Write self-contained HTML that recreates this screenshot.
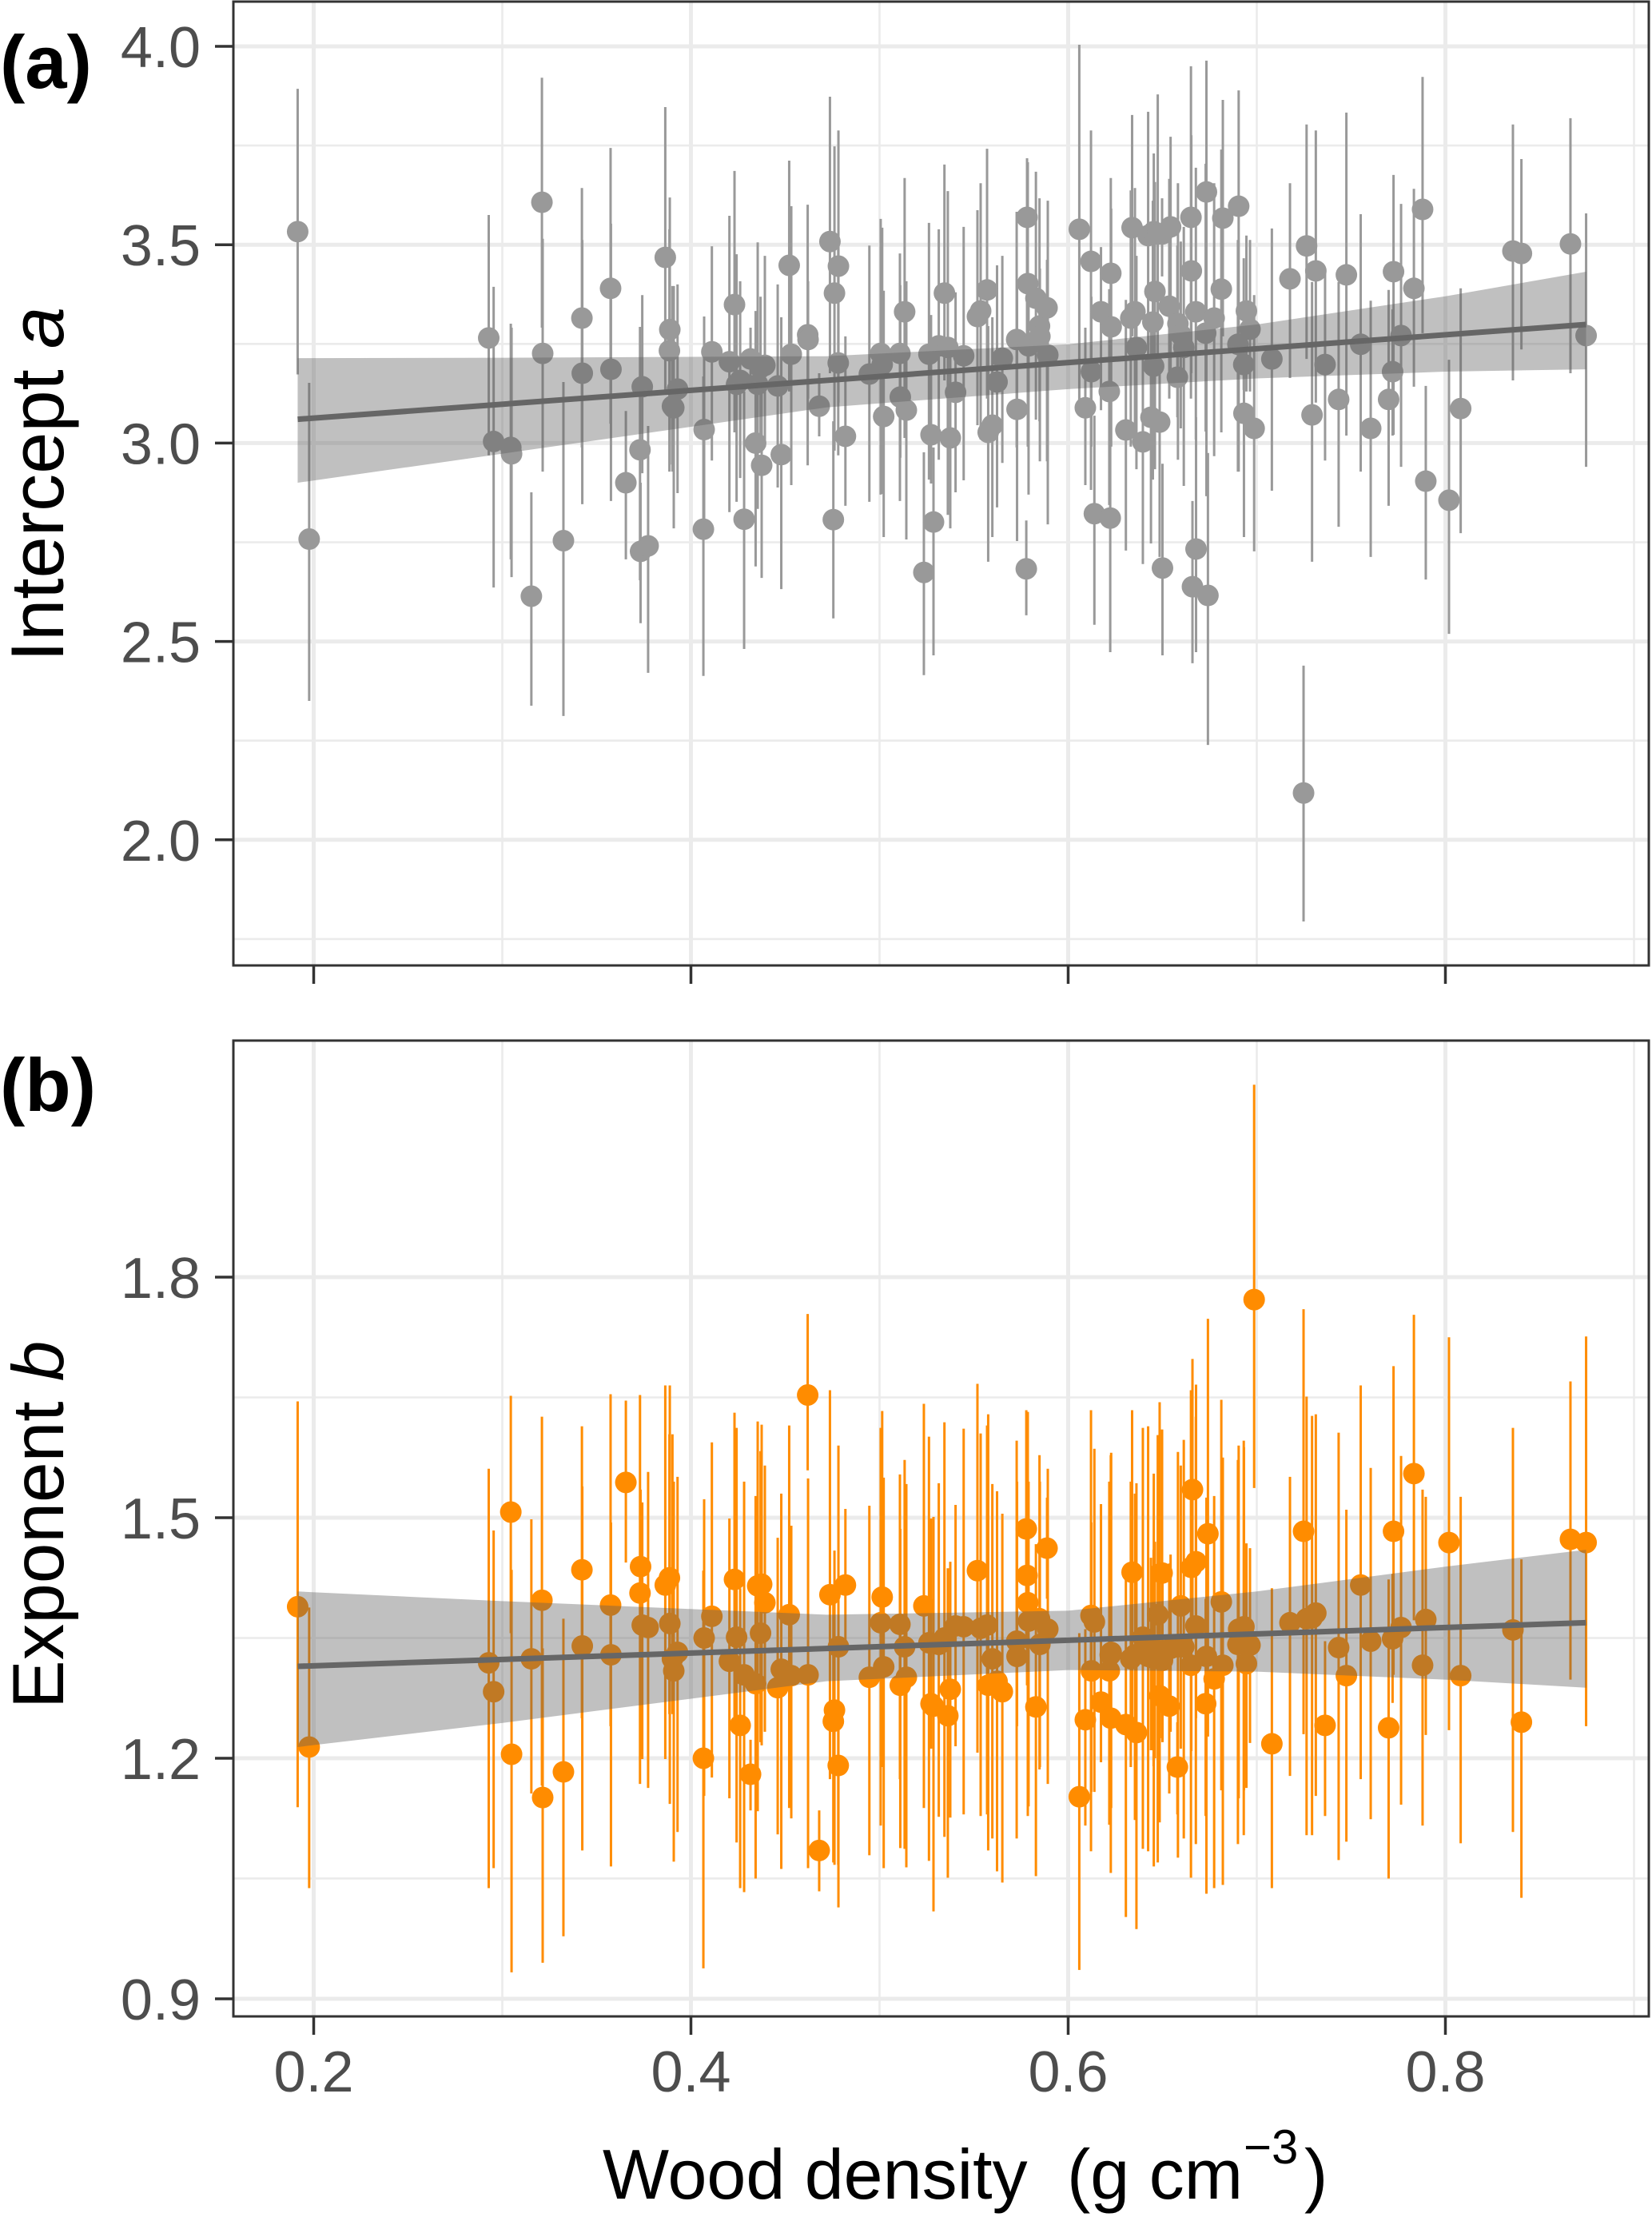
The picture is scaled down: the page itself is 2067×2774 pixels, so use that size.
<!DOCTYPE html>
<html lang="en">
<head>
<meta charset="utf-8">
<title>Wood density vs intercept and exponent</title>
<style>
html,body{margin:0;padding:0;background:#fff;}
svg{display:block;font-family:"Liberation Sans",Arial,sans-serif;}
</style>
</head>
<body>
<svg id="chart" xmlns="http://www.w3.org/2000/svg" width="2067" height="2774" viewBox="0 0 2067 2774">
  <rect x="0" y="0" width="2067" height="2774" fill="#ffffff"/>
  <g id="panelA"></g>
  <g id="panelB"></g>
  <text x="0" y="110" font-size="94" font-weight="bold" fill="#000">(a)</text>
  <text x="0" y="1390" font-size="94" font-weight="bold" fill="#000">(b)</text>
  <text transform="translate(79,828) rotate(-90)" font-size="94" fill="#000">Intercept <tspan font-style="italic">a</tspan></text>
  <text transform="translate(79,2138) rotate(-90)" font-size="91" fill="#000">Exponent <tspan font-style="italic">b</tspan></text>
  <g>
    <text x="754" y="2751" font-size="88" fill="#000">Wood density</text>
    <text x="1335" y="2751" font-size="88" fill="#000">(g cm</text>
    <text x="1556" y="2707" font-size="60" fill="#000">−3</text>
    <text x="1632" y="2751" font-size="88" fill="#000">)</text>
  </g>
</svg>
<script>
const xValues = [
.1915,.1976,.2928,.2954,.3045,.3049,.3154,.3210,.3214,.3324,
.3422,.3424,.3574,.3576,.3655,.3742,.3730,.3733,.3773,.3864,
.3888,.3886,.3929,.3902,.3909,.4070,.4066,.4111,.4204,.4231,
.4242,.4261,.4282,.4316,.4343,.4354,.4375,.4369,.4392,.4460,
.4479,.4521,.4532,.4619,.4621,.4680,.4737,.4782,.4761,.4781,
.4819,.4755,.4946,.5006,.5014,.5022,.5108,.5110,.5133,.5142,
.5235,.5262,.5273,.5286,.5314,.5344,.5362,.5375,.5403,.5446,
.5519,.5536,.5570,.5576,.5598,.5623,.5651,.5727,.5729,.5778,
.5782,.5786,.5790,.5829,.5848,.5850,.5888,.5892,.6059,.6091,
.6121,.6123,.6139,.6174,.6226,.6228,.6218,.6223,.6306,.6339,
.6354,.6332,.6362,.6396,.6424,.6454,.6498,.6475,.6543,.6651,
.6653,.6733,.6820,.6904,.6812,.6460,.6536,.6449,.6677,.6774,
.6945,.6582,.6597,.6729,.6964,.6900,.6613,.6931,.7080,.6453,
.6579,.6485,.6439,.6932,.6986,.6678,.6500,.6659,.6741,.7264,
.7176,.7313,.7475,.7293,.7362,.7551,.7434,.7604,.7725,.7765,
.7720,.7699,.7833,.7879,.8081,.7896,.8019,.8358,.8403,.8663,
.8746,.7248];

const aEstimate = [
3.533,2.758,3.265,3.004,2.989,2.973,2.614,3.607,3.226,2.754,
3.315,3.176,3.390,3.186,2.900,3.142,2.983,2.727,2.741,3.468,
3.286,3.233,3.136,3.093,3.089,3.034,2.783,3.230,3.205,3.349,
3.148,3.158,2.808,3.212,3.000,3.148,2.944,3.190,3.196,3.144,
2.971,3.448,3.224,3.273,3.261,3.093,3.508,3.446,3.378,3.202,
3.017,2.807,3.174,3.226,3.198,3.067,3.226,3.116,3.331,3.083,
2.674,3.224,3.021,2.801,3.245,3.378,3.241,3.013,3.128,3.220,
3.319,3.333,3.386,3.027,3.045,3.154,3.214,3.261,3.085,2.683,
3.569,3.402,3.245,3.365,3.295,3.269,3.341,3.222,3.539,3.089,
3.458,3.180,2.822,3.331,3.428,3.293,3.130,2.811,3.033,3.543,
3.331,3.315,3.241,3.003,3.523,3.533,3.527,3.527,3.545,3.569,
3.434,3.633,3.567,3.597,3.388,3.382,3.345,3.305,3.331,3.315,
3.333,3.301,3.273,3.277,3.287,3.249,3.241,3.198,3.212,3.194,
3.166,3.053,3.065,3.075,3.037,2.733,2.685,2.638,2.616,3.497,
3.414,3.434,3.424,3.071,3.198,3.249,3.110,3.037,3.432,3.271,
3.180,3.110,3.390,3.589,3.087,2.904,2.856,3.484,3.478,3.502,
3.271,2.118];

const aUpper = [
3.893,3.152,3.575,3.394,3.301,3.291,2.876,3.921,3.515,3.154,
3.643,3.512,3.744,3.553,3.081,3.373,3.293,2.900,3.043,3.847,
3.619,3.539,3.400,3.396,3.396,3.319,3.168,3.496,3.573,3.686,
3.476,3.408,3.130,3.291,3.333,3.506,3.176,3.369,3.472,3.400,
3.317,3.712,3.597,3.601,3.408,3.176,3.873,3.788,3.748,3.527,
3.269,3.055,3.498,3.565,3.543,3.384,3.478,3.398,3.668,3.408,
2.977,3.555,3.323,2.989,3.539,3.702,3.635,3.230,3.380,3.545,
3.587,3.655,3.742,3.295,3.317,3.448,3.472,3.583,3.398,2.805,
3.718,3.708,3.380,3.684,3.617,3.440,3.462,3.611,4.004,3.291,
3.788,3.369,3.069,3.494,3.668,3.591,3.388,3.027,3.361,3.827,
3.643,3.637,3.472,3.251,3.835,3.730,3.617,3.879,3.772,3.950,
3.776,3.964,3.865,3.889,3.740,3.658,3.666,3.611,3.694,3.655,
3.523,3.655,3.508,3.704,3.512,3.512,3.545,3.466,3.541,3.452,
3.498,3.204,3.311,3.251,3.373,3.065,2.948,2.854,2.975,3.803,
3.655,3.788,3.833,3.406,3.434,3.577,3.406,3.359,3.676,3.603,
3.337,3.386,3.641,3.923,3.390,3.144,3.210,3.803,3.716,3.819,
3.579,2.439];

const aLower = [
3.173,2.350,2.969,2.636,2.707,2.662,2.338,3.291,2.928,2.312,
2.989,2.846,3.049,2.854,2.707,2.924,2.654,2.546,2.421,3.122,
2.946,2.928,2.874,2.928,2.785,2.789,2.413,2.956,2.826,3.027,
2.852,2.912,2.481,3.130,2.689,2.834,2.660,2.991,2.991,2.888,
2.632,3.130,2.894,2.944,3.112,3.017,3.176,3.102,2.981,2.969,
2.842,2.558,2.852,2.870,2.872,2.763,2.854,2.963,3.013,2.757,
2.415,2.908,2.898,2.465,2.958,3.158,2.819,2.785,2.876,2.906,
3.045,3.009,3.112,2.701,2.763,2.838,2.950,2.989,2.753,2.566,
3.259,2.991,2.870,3.059,3.055,2.954,2.954,2.795,3.079,2.894,
2.882,2.991,2.542,3.083,3.001,2.991,2.844,2.473,2.729,3.269,
2.991,2.991,2.934,2.695,3.194,3.269,3.420,3.212,3.176,3.112,
3.176,2.866,3.269,2.928,3.027,2.934,3.112,2.908,3.009,2.967,
3.130,2.958,3.037,3.029,3.130,2.928,2.892,3.134,2.880,2.948,
3.065,2.713,2.747,2.763,2.727,2.473,2.465,2.445,2.239,3.212,
3.164,3.102,3.019,2.701,2.956,2.928,2.789,2.713,3.021,2.940,
3.019,2.842,3.142,3.277,2.773,2.656,2.519,3.158,3.236,3.176,
2.940,1.794];

const bEstimate = [
1.389,1.214,1.319,1.283,1.507,1.205,1.324,1.397,1.151,1.183,
1.435,1.340,1.391,1.329,1.544,1.366,1.406,1.439,1.363,1.416,
1.368,1.425,1.332,1.324,1.309,1.350,1.200,1.377,1.321,1.423,
1.351,1.241,1.304,1.180,1.293,1.415,1.417,1.356,1.394,1.288,
1.311,1.379,1.303,1.653,1.304,1.085,1.404,1.339,1.260,1.191,
1.416,1.246,1.301,1.369,1.401,1.314,1.367,1.291,1.339,1.301,
1.390,1.344,1.268,1.265,1.342,1.350,1.253,1.286,1.365,1.364,
1.434,1.362,1.366,1.291,1.324,1.296,1.283,1.346,1.327,1.486,
1.428,1.394,1.371,1.264,1.374,1.342,1.462,1.361,1.152,1.248,
1.378,1.309,1.370,1.270,1.250,1.332,1.309,1.329,1.242,1.432,
1.329,1.324,1.232,1.351,1.327,1.332,1.431,1.379,1.337,1.316,
1.438,1.327,1.316,1.361,1.395,1.335,1.265,1.325,1.365,1.299,
1.318,1.339,1.390,1.268,1.341,1.342,1.339,1.342,1.218,1.330,
1.189,1.278,1.335,1.364,1.772,1.445,1.322,1.535,1.480,1.374,
1.369,1.381,1.303,1.375,1.241,1.416,1.338,1.346,1.483,1.363,
1.349,1.238,1.555,1.316,1.303,1.373,1.469,1.360,1.245,1.473,
1.469,1.483];

const bUpper = [
1.645,1.388,1.561,1.484,1.652,1.435,1.498,1.626,1.337,1.374,
1.614,1.539,1.654,1.494,1.646,1.519,1.653,1.535,1.557,1.665,
1.665,1.604,1.551,1.604,1.545,1.523,1.434,1.594,1.499,1.631,
1.612,1.412,1.545,1.223,1.527,1.620,1.616,1.583,1.565,1.475,
1.530,1.615,1.490,1.754,1.549,1.135,1.659,1.590,1.459,1.351,
1.511,1.392,1.515,1.612,1.633,1.550,1.554,1.486,1.572,1.542,
1.642,1.601,1.499,1.501,1.543,1.619,1.437,1.445,1.516,1.611,
1.667,1.605,1.615,1.629,1.542,1.533,1.505,1.596,1.545,1.634,
1.553,1.632,1.545,1.467,1.578,1.545,1.525,1.561,1.356,1.361,
1.634,1.494,1.586,1.517,1.578,1.581,1.545,1.545,1.423,1.634,
1.530,1.545,1.543,1.612,1.614,1.555,1.610,1.603,1.454,1.659,
1.568,1.525,1.575,1.590,1.647,1.470,1.443,1.440,1.626,1.527,
1.468,1.582,1.565,1.399,1.462,1.572,1.597,1.596,1.412,1.460,
1.245,1.644,1.450,1.588,2.040,1.666,1.420,1.698,1.748,1.651,
1.551,1.629,1.510,1.627,1.346,1.665,1.606,1.562,1.689,1.577,
1.430,1.423,1.753,1.535,1.526,1.526,1.725,1.612,1.448,1.670,
1.726,1.760];

const bLower = [
1.139,1.038,1.038,1.063,1.356,0.933,1.156,1.166,0.945,0.978,
1.250,1.085,1.240,1.065,1.444,1.199,1.168,1.199,1.163,1.199,
1.143,1.255,1.108,1.255,1.071,1.153,0.938,1.176,1.150,1.240,
1.095,1.038,1.033,1.135,1.050,1.134,1.216,1.220,1.233,1.105,
1.062,1.138,1.125,1.559,1.063,1.034,1.174,1.014,1.067,1.067,
1.337,1.070,1.079,1.116,1.189,1.063,1.174,1.088,1.087,1.064,
1.138,1.072,1.212,1.009,1.127,1.102,1.051,1.126,1.215,1.130,
1.207,1.128,1.130,1.085,1.100,1.059,1.045,1.100,1.240,1.337,
1.291,1.128,1.140,1.053,1.186,1.189,1.399,1.168,0.936,1.116,
1.084,1.158,1.158,1.195,1.057,1.138,1.117,1.150,1.002,1.240,
1.123,1.189,0.987,1.087,1.084,1.065,1.225,1.070,1.233,1.051,
1.209,1.031,1.042,1.150,1.160,1.200,1.156,1.210,1.093,1.038,
1.163,1.076,1.212,1.128,1.219,1.093,1.100,1.104,1.038,1.190,
1.130,1.120,1.210,1.160,1.537,1.250,1.220,1.356,1.227,1.104,
1.178,1.153,1.096,1.104,1.128,1.174,1.073,1.124,1.304,1.142,
1.269,1.050,1.372,1.116,1.094,1.229,1.235,1.108,1.026,1.298,
1.240,1.230];

const bandX = [0.1915,0.2998,0.4719,0.6,0.7,0.8,0.8746];
const aBandUpper = [3.214,3.215,3.219,3.249,3.299,3.370,3.432];
const aBandLower = [2.900,2.973,3.090,3.136,3.163,3.180,3.186];
const bBandUpper = [1.408,1.396,1.379,1.384,1.408,1.439,1.460];
const bBandLower = [1.214,1.244,1.296,1.310,1.308,1.298,1.288];

const fitX = [0.1915,0.8746];
const aFit = [3.060,3.299];
const bFit = [1.3146,1.369];

const xTickValues = [0.2,0.4,0.6,0.8];
const xTickLabels = ["0.2","0.4","0.6","0.8"];
const xMinorValues = [0.3,0.5,0.7,0.9];
const aTickValues = [4.0,3.5,3.0,2.5,2.0];
const aTickLabels = ["4.0","3.5","3.0","2.5","2.0"];
const aMinorValues = [3.75,3.25,2.75,2.25,1.75];
const bTickValues = [1.8,1.5,1.2,0.9];
const bTickLabels = ["1.8","1.5","1.2","0.9"];
const bMinorValues = [1.65,1.35,1.05];

const NS = "http://www.w3.org/2000/svg";
const PLOT_LEFT = 292;
const PLOT_RIGHT = 2063;
function xScale(v){ return 392.5 + (v - 0.2) * 2360; }
function aScale(v){ return 58 + (4 - v) * 496.4; }
function bScale(v){ return 1899 + (1.5 - v) * 1003.3; }

function svgEl(tag, parent, attrs){
  const el = document.createElementNS(NS, tag);
  for (const k in attrs) el.setAttribute(k, attrs[k]);
  parent.appendChild(el);
  return el;
}

function drawPanel(root, cfg){
  const top = cfg.top, bottom = cfg.bottom, yS = cfg.yScale;

  const bg = svgEl("rect", root, {x:PLOT_LEFT, y:top, width:PLOT_RIGHT-PLOT_LEFT, height:bottom-top, fill:"#fff"});
  
  

  cfg.yMinor.forEach(function(v){
    const g = svgEl("line", root, {x1:PLOT_LEFT, x2:PLOT_RIGHT, y1:yS(v), y2:yS(v), stroke:"#ebebeb", "stroke-width":2.6});
    
    
  });
  xMinorValues.forEach(function(v){
    const g = svgEl("line", root, {x1:xScale(v), x2:xScale(v), y1:top, y2:bottom, stroke:"#ebebeb", "stroke-width":2.6});
    
    
  });
  cfg.yTicks.forEach(function(v){
    const g = svgEl("line", root, {x1:PLOT_LEFT, x2:PLOT_RIGHT, y1:yS(v), y2:yS(v), stroke:"#ebebeb", "stroke-width":5});
    
    
  });
  xTickValues.forEach(function(v){
    const g = svgEl("line", root, {x1:xScale(v), x2:xScale(v), y1:top, y2:bottom, stroke:"#ebebeb", "stroke-width":5});
    
    
  });

  xValues.forEach(function(x, i){
    const w = svgEl("line", root, {x1:xScale(x), x2:xScale(x), y1:yS(cfg.upper[i]), y2:yS(cfg.lower[i]), stroke:cfg.color, "stroke-width":3});
    
    
  });
  xValues.forEach(function(x, i){
    const c = svgEl("circle", root, {cx:xScale(x), cy:yS(cfg.est[i]), r:13.5, fill:cfg.color});
    
    
  });

  let d = "";
  bandX.forEach(function(x, i){ d += (i ? "L" : "M") + xScale(x) + " " + yS(cfg.bandUpper[i]) + " "; });
  for (let i = bandX.length - 1; i >= 0; i--) { d += "L" + xScale(bandX[i]) + " " + yS(cfg.bandLower[i]) + " "; }
  const band = svgEl("path", root, {d:d + "Z", fill:"#5c5c5c", "fill-opacity":0.39});
  
  

  const fit = svgEl("line", root, {x1:xScale(fitX[0]), x2:xScale(fitX[1]), y1:yS(cfg.fit[0]), y2:yS(cfg.fit[1]), stroke:"#666666", "stroke-width":7});
  
  

  const border = svgEl("rect", root, {x:PLOT_LEFT, y:top, width:PLOT_RIGHT-PLOT_LEFT, height:bottom-top, fill:"none", stroke:"#333333", "stroke-width":3});
  
  

  cfg.yTicks.forEach(function(v, i){
    const t = svgEl("line", root, {x1:269, x2:PLOT_LEFT, y1:yS(v), y2:yS(v), stroke:"#333333", "stroke-width":3.5});
    
    
    const l = svgEl("text", root, {x:251, y:yS(v)+26, "text-anchor":"end", "font-size":72, fill:"#4d4d4d"});
    l.textContent = cfg.yLabels[i];
    
    
  });
  xTickValues.forEach(function(v, i){
    const t = svgEl("line", root, {x1:xScale(v), x2:xScale(v), y1:bottom, y2:bottom+23, stroke:"#333333", "stroke-width":3.5});
    
    
    if (cfg.showXLabels) {
      const l = svgEl("text", root, {x:xScale(v), y:2617, "text-anchor":"middle", "font-size":72, fill:"#4d4d4d"});
      l.textContent = xTickLabels[i];
      
      
    }
  });
}

drawPanel(document.getElementById("panelA"), {
  top:2, bottom:1208, yScale:aScale, yTicks:aTickValues, yLabels:aTickLabels, yMinor:aMinorValues,
  est:aEstimate, upper:aUpper, lower:aLower, bandUpper:aBandUpper, bandLower:aBandLower, fit:aFit,
  color:"#999999", showXLabels:false
});
drawPanel(document.getElementById("panelB"), {
  top:1302, bottom:2523, yScale:bScale, yTicks:bTickValues, yLabels:bTickLabels, yMinor:bMinorValues,
  est:bEstimate, upper:bUpper, lower:bLower, bandUpper:bBandUpper, bandLower:bBandLower, fit:bFit,
  color:"#ff8c00", showXLabels:true
});
</script>
</body>
</html>
